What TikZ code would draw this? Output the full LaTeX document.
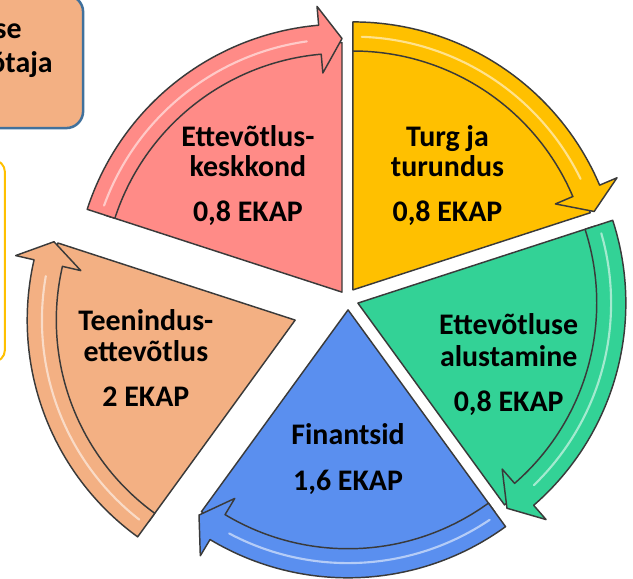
\documentclass[tikz,border=0pt]{standalone}
\usepackage{fontspec}
\setmainfont{Carlito}
\usepackage{xcolor}
\usepackage{tikz}
\definecolor{CYPink}{HTML}{FF8B87}
\definecolor{CYYellow}{HTML}{FFC000}
\definecolor{CYGreen}{HTML}{33D296}
\definecolor{CYBlue}{HTML}{5A8FEF}
\definecolor{CYOrange}{HTML}{F3B083}
\definecolor{CYLine}{HTML}{3A3A3A}
\definecolor{CYBoxLine}{HTML}{41719C}
\tikzset{
  segline/.style={draw=CYLine,line width=1.1pt,line join=round},
  gloss/.style={white,opacity=0.55,line width=1.6pt,line cap=round},
  seglabel/.style={anchor=base,inner sep=0pt,font=\fontsize{22.5}{23.5}\selectfont\bfseries}
}
% one slice of the cycle: apex, start angle, colour
\newcommand{\cycseg}[3]{%
  \begin{scope}[shift={(#1)}]
  \filldraw[segline,fill=#3] (0,0) -- (#2:6.60) arc[start angle=#2,delta angle=-72,radius=6.60] -- cycle;
  \filldraw[segline,fill=#3] (#2:6.32) -- (#2:7.09) arc[start angle=#2,end angle=#2-67,radius=7.09]
    -- (#2-67:7.59) -- (#2-72:6.71) -- (#2-67:5.82) -- (#2-67:6.32)
    arc[start angle=#2-67,end angle=#2,radius=6.32] -- cycle;
  \draw[gloss] (#2-2:6.70) arc[start angle=#2-2,end angle=#2-64,radius=6.70];
  \end{scope}}

\begin{document}
\begin{tikzpicture}[x=1cm,y=1cm]
\path[use as bounding box] (0,0) rectangle (16.75,15.32);
% boxes cut by the left edge
\draw[CYBoxLine,fill=CYOrange,line width=1.9pt,rounded corners=0.45cm] (-1.00,11.93) rectangle (2.20,15.45);
\node[seglabel,anchor=base east] (boxse) at (0.58,14.31) {se};
\node[seglabel,anchor=base east] (boxotaja) at (1.40,13.40) {õtaja};
\draw[CYYellow,line width=1.5pt,rounded corners=0.32cm] (-1.00,5.74) rectangle (0.13,11.09);
% slices
\cycseg{9.05,7.59}{162}{CYPink}
\cycseg{9.34,7.65}{90}{CYYellow}
\cycseg{9.47,7.30}{18}{CYGreen}
\cycseg{9.21,7.12}{-54}{CYBlue}
\cycseg{7.81,6.85}{234}{CYOrange}
% labels
\node[seglabel] (pinkA) at (6.56,11.44) {Ettevõtlus-};
\node[seglabel] (pinkB) at (6.56,10.65) {keskkond};
\node[seglabel] (pinkC) at (6.56,9.45) {0,8 EKAP};
\node[seglabel] (yellowA) at (11.84,11.44) {Turg ja};
\node[seglabel] (yellowB) at (11.84,10.65) {turundus};
\node[seglabel] (yellowC) at (11.84,9.45) {0,8 EKAP};
\node[seglabel] (greenA) at (13.46,6.46) {Ettevõtluse};
\node[seglabel] (greenB) at (13.46,5.62) {alustamine};
\node[seglabel] (greenC) at (13.46,4.43) {0,8 EKAP};
\node[seglabel] (blueA) at (9.21,3.55) {Finantsid};
\node[seglabel] (blueB) at (9.21,2.35) {1,6 EKAP};
\node[seglabel] (orangeA) at (3.86,6.57) {Teenindus-};
\node[seglabel] (orangeB) at (3.86,5.75) {ettevõtlus};
\node[seglabel] (orangeC) at (3.86,4.56) {2 EKAP};
\end{tikzpicture}
\end{document}
